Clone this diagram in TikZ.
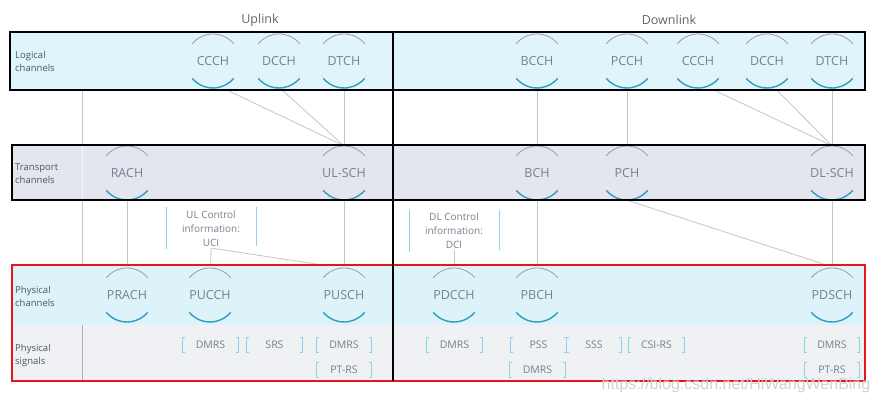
\documentclass[tikz,border=0pt]{standalone}
\usepackage{fontspec}
\setmainfont{Open Sans}
\newfontfamily\wmfont{Liberation Sans}
\usetikzlibrary{calc}
\pgfdeclarelayer{backdrop}
\pgfdeclarelayer{lines}
\pgfdeclarelayer{bands}
\pgfsetlayers{backdrop,lines,bands,main}
\definecolor{logfill}{HTML}{DFF5FB}
\definecolor{trfill}{HTML}{E3E5EF}
\definecolor{phfill}{HTML}{DDF3FA}
\definecolor{sgfill}{HTML}{EFF1F5}
\definecolor{chtext}{HTML}{76818F}
\definecolor{arctop}{HTML}{9A9EA3}
\definecolor{arcbot}{HTML}{2F9CC2}
\definecolor{brkcol}{HTML}{8DD4E6}
\definecolor{conncol}{HTML}{C4C6CA}
\definecolor{lblcol}{HTML}{4D5560}
\definecolor{redbox}{HTML}{E8141C}
\tikzset{
  chan/.style={circle, minimum size=54pt, inner sep=0pt, text=chtext, font=\fontsize{12.5}{14}\selectfont},
  arctopst/.style={draw=arctop, line width=0.8pt},
  arcbotst/.style={draw=arcbot, line width=1.4pt},
  sig/.style={rectangle, minimum width=55pt, minimum height=14pt, inner sep=0pt, text=chtext, font=\fontsize{10.5}{12}\selectfont},
  brkst/.style={draw=brkcol, line width=0.9pt},
  conn/.style={draw=conncol, line width=0.8pt},
  band/.style={font=\fontsize{9.5}{13}\selectfont, text=lblcol, align=left, anchor=west, inner sep=0pt},
  info/.style={font=\fontsize{10}{14}\selectfont, text=chtext, align=center, inner sep=1pt},
  heading/.style={font=\fontsize{12.5}{14}\selectfont, text=lblcol!90},
  blackbox/.style={draw=black, line width=2.8pt},
}
\newcommand\chnode[4]{%
  \node[chan] (#1) at (#2,#3) {#4};
  \draw[arctopst] ($(#1.center)+(40:27pt)$) arc[start angle=40, end angle=140, radius=27pt];
  \draw[arcbotst] ($(#1.center)+(220:27pt)$) arc[start angle=220, end angle=320, radius=27pt];
}
\newcommand\signode[4]{%
  \node[sig] (#1) at (#2,#3) {#4};
  \draw[brkst] ([xshift=2.5pt]#1.north west) -- (#1.north west) -- (#1.south west) -- ([xshift=2.5pt]#1.south west);
  \draw[brkst] ([xshift=-2.5pt]#1.north east) -- (#1.north east) -- (#1.south east) -- ([xshift=-2.5pt]#1.south east);
}
\begin{document}
\begin{tikzpicture}[x=1pt, y=-1pt]
\useasboundingbox (0,0) rectangle (879,402);
\begin{pgfonlayer}{backdrop}
\fill[white] (0,0) rectangle (879,402);
\end{pgfonlayer}

% headings
\node[heading] (ul) at (260,20) {Uplink};
\node[heading] (dl) at (669,20) {Downlink};

% band labels
\node[band] (lbllog) at (15,61) {Logical\\channels};
\node[band] (lbltr) at (15,174) {Transport\\channels};
\node[band] (lblph) at (15,296) {Physical\\channels};
\node[band] (lblsg) at (15,356) {Physical\\signals};

% logical channels
\chnode{ulccch}{213}{61}{CCCH}
\chnode{uldcch}{279}{61}{DCCH}
\chnode{uldtch}{344}{61}{DTCH}
\chnode{bcch}{537}{61}{BCCH}
\chnode{pcch}{627}{61}{PCCH}
\chnode{dlccch}{698}{61}{CCCH}
\chnode{dldcch}{767}{61}{DCCH}
\chnode{dldtch}{832}{61}{DTCH}

% transport channels
\chnode{rach}{127}{173}{RACH}
\chnode{ulsch}{344}{173}{UL-SCH}
\chnode{bch}{537}{173}{BCH}
\chnode{pch}{627}{173}{PCH}
\chnode{dlsch}{832}{173}{DL-SCH}

% physical channels
\chnode{prach}{127}{295}{PRACH}
\chnode{pucch}{210}{295}{PUCCH}
\chnode{pusch}{344}{295}{PUSCH}
\chnode{pdcch}{454}{295}{PDCCH}
\chnode{pbch}{537}{295}{PBCH}
\chnode{pdsch}{832}{295}{PDSCH}

% control information
\node[info] (uci) at (211,229) {UL Control\\information:\\UCI};
\node[info] (dci) at (454,231) {DL Control\\information:\\DCI};
\draw[brkst] (166,207) -- (166,249);
\draw[brkst] (256,207) -- (256,246);
\draw[brkst] (409,210) -- (409,252);
\draw[brkst] (499,210) -- (499,250);

% physical signals
\signode{uldmrsa}{210.5}{345}{DMRS}
\signode{srs}{274.5}{345}{SRS}
\signode{uldmrsb}{344}{345}{DMRS}
\signode{ulptrs}{344}{370}{PT-RS}
\signode{dldmrsa}{454.5}{345}{DMRS}
\signode{pss}{538.5}{345}{PSS}
\signode{sss}{594}{345}{SSS}
\signode{csirs}{656.5}{345}{CSI-RS}
\signode{dldmrsb}{537.5}{370}{DMRS}
\signode{dldmrsc}{832}{345}{DMRS}
\signode{dlptrs}{832}{370}{PT-RS}

\coordinate (puschin) at ($(pusch.north)+(-16,-2)$);
\coordinate (pdschin) at ($(pdsch.north)+(-9,-4)$);

% connectors (beneath the bands)
\begin{pgfonlayer}{lines}
\draw[conn] (82,90) -- (82,265);
\draw[conn] ($(ulccch.south)+(10,0)$) -- (ulsch.north);
\draw[conn] ($(uldcch.south)+(1,0)$) -- (ulsch.north);
\draw[conn] (uldtch) -- (ulsch);
\draw[conn] (rach) -- (prach);
\draw[conn] (ulsch) -- (pusch);
\draw[conn] (uci.south) -- (pucch);
\draw[conn] (uci.south) -- (puschin);
\draw[conn] (bcch) -- (bch);
\draw[conn] (pcch) -- (pch);
\draw[conn] ($(dlccch.south)+(12,0)$) -- (dlsch.north);
\draw[conn] ($(dldcch.south)+(8,0)$) -- (dlsch.north);
\draw[conn] (dldtch) -- (dlsch);
\draw[conn] (bch) -- (pbch);
\draw[conn] (pch.south) -- (pdschin);
\draw[conn] (dlsch) -- (pdsch);
\draw[conn] (dci.south) -- (pdcch);
\end{pgfonlayer}

% bands
\begin{pgfonlayer}{bands}
\fill[logfill] (10,32) rectangle (865,90);
\fill[trfill] (12,145) rectangle (865,200);
\fill[phfill] (12,265) rectangle (865,325);
\fill[sgfill] (12,325) rectangle (865,381);
\draw[draw=white!70!trfill, line width=0.8pt] (82,145) -- (82,200);
\draw[draw=black!30, line width=0.8pt] (82,325) -- (82,381);
\end{pgfonlayer}

% frames
\draw[blackbox] (10,32) rectangle (865,90);
\draw[blackbox] (12,145) rectangle (865,200);
\draw[draw=redbox, line width=2.8pt] (12,265) rectangle (865,381);
\draw[blackbox] (393,32) -- (393,381);

% watermark
\node[font=\wmfont\fontsize{16}{16}\selectfont, text=black!18] (wm) at (736,385) {https://blog.csdn.net/HiWangWenBing};
\end{tikzpicture}
\end{document}
